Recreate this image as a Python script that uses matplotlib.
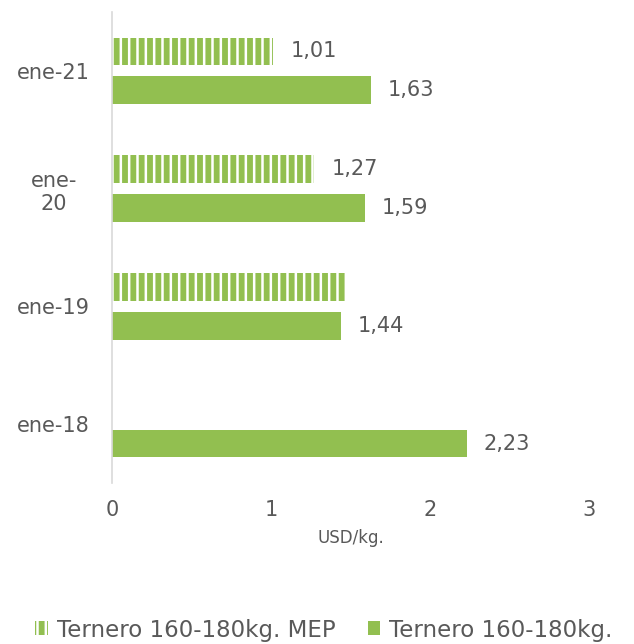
import numpy as np
import matplotlib.pyplot as plt
from matplotlib.patches import Patch

plt.rcParams['font.family'] = ['DejaVu Sans']
plt.rcParams['hatch.linewidth'] = 1.8

categories = ["ene-18", "ene-19", "ene-\n20", "ene-21"]
mep_values = [np.nan, 1.47, 1.27, 1.01]
mep_labels = ["", "", "1,27", "1,01"]
ternero_values = [2.23, 1.44, 1.59, 1.63]
ternero_labels = ["2,23", "1,44", "1,59", "1,63"]

GREEN = '#92BF50'
TEXT = '#595959'
FS = 15

fig = plt.figure(figsize=(6.34, 6.44), dpi=100)
ax = fig.add_axes([112 / 634, 1 - 483 / 644, 477 / 634, 471 / 644])

y = np.arange(len(categories))
h = 0.235
off = 0.165

# striped bars: green fill with white vertical hatch lines
ax.barh(y + off, mep_values, height=h, color=GREEN, edgecolor='white',
        hatch='||', linewidth=0)
ax.barh(y - off, ternero_values, height=h, color=GREEN, linewidth=0)

for yi, v, lab in zip(y, mep_values, mep_labels):
    if lab:
        ax.annotate(lab, (v, yi + off), xytext=(13, 0), textcoords='offset points',
                    va='center', ha='left', fontsize=FS, color=TEXT)
for yi, v, lab in zip(y, ternero_values, ternero_labels):
    ax.annotate(lab, (v, yi - off), xytext=(12, 0), textcoords='offset points',
                va='center', ha='left', fontsize=FS, color=TEXT)

ax.set_xlim(0, 3)
ax.set_ylim(-0.5, 3.5)
ax.set_xticks([0, 1, 2, 3])
ax.set_yticks(y)
ax.set_yticklabels(categories, ha='center', multialignment='center')
ax.tick_params(axis='y', length=0, pad=42, labelsize=FS, labelcolor=TEXT)
ax.tick_params(axis='x', length=0, pad=12, labelsize=FS, labelcolor=TEXT)
ax.set_xlabel("USD/kg.", fontsize=12, color=TEXT, labelpad=7)

for s in ['top', 'right', 'bottom']:
    ax.spines[s].set_visible(False)
ax.spines['left'].set_color('#D9D9D9')
ax.spines['left'].set_linewidth(1.2)

handles = [Patch(facecolor=GREEN, edgecolor='white', hatch='||', linewidth=0,
                 label="Ternero 160-180kg. MEP"),
           Patch(facecolor=GREEN, linewidth=0, label="Ternero 160-180kg.")]
fig.legend(handles=handles, loc='center', bbox_to_anchor=(0.511, 1 - 630 / 644),
           ncol=2, frameon=False, fontsize=16.5, labelcolor=TEXT,
           handlelength=0.55, handleheight=0.55, handletextpad=0.4, columnspacing=1.4)

fig.savefig('out.png', dpi=100)
